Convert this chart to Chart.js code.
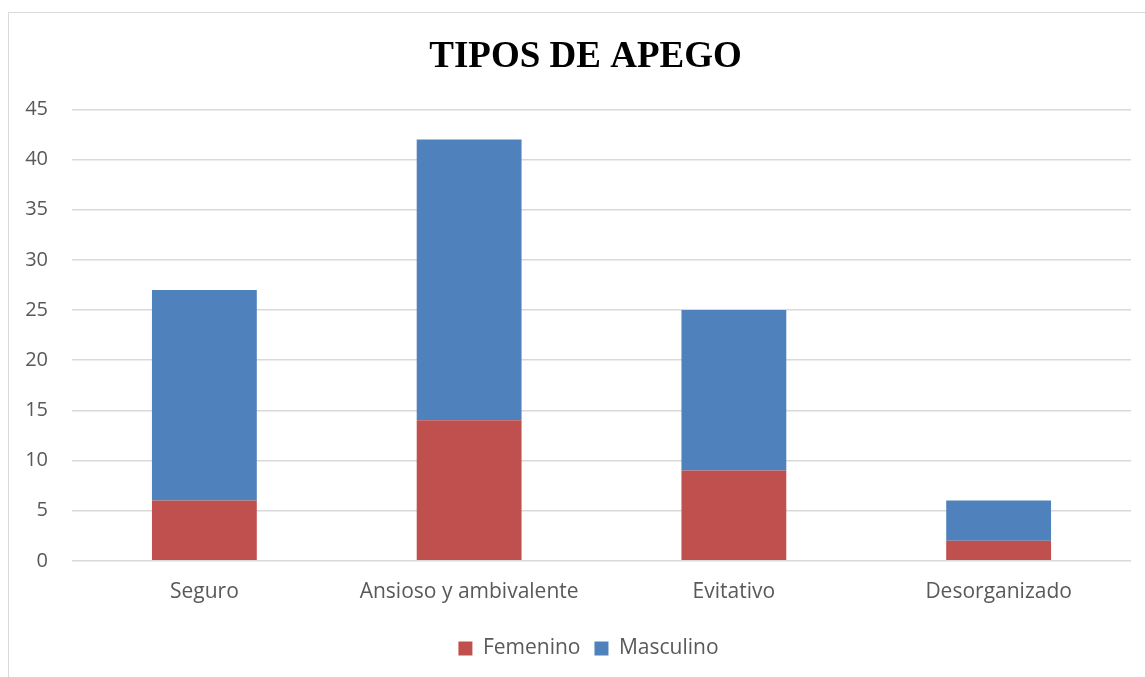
<!DOCTYPE html>
<html>
<head>
<meta charset="utf-8">
<script src="https://cdn.jsdelivr.net/npm/chart.js@4"></script>
<style>
  html, body { margin: 0; padding: 0; background: #fff; overflow: hidden; }
  #frame { position: absolute; left: 8px; top: 12px; width: 1200px; height: 700px; border: 1px solid #d9d9d9; }
  #wrap { position: absolute; left: 0; top: 0; width: 1145px; height: 677px; }
</style>
</head>
<body>
<div id="frame"></div>
<div id="wrap"><canvas id="chart"></canvas></div>
<script>
const categories = ["Seguro", "Ansioso y ambivalente", "Evitativo", "Desorganizado"];
const femenino = [6, 14, 9, 2];
const masculino = [21, 28, 16, 4];
const yTicks = [0, 5, 10, 15, 20, 25, 30, 35, 40, 45];

const textFont = { family: "'Open Sans', sans-serif", size: 21 };

// title and legend are centred a little right of the full canvas in the original
const shiftBlocks = {
  id: 'shiftBlocks',
  afterLayout(chart) {
    if (chart.titleBlock) chart.titleBlock.left = 40;
    if (chart.legend) chart.legend.left = 46;
  }
};

new Chart(document.getElementById("chart").getContext("2d"), {
  type: 'bar',
  data: {
    labels: categories,
    datasets: [
      { label: 'Femenino', data: femenino, backgroundColor: '#c0504d', categoryPercentage: 1, barPercentage: 0.396 },
      { label: 'Masculino', data: masculino, backgroundColor: '#4f81bd', categoryPercentage: 1, barPercentage: 0.396 }
    ]
  },
  options: {
    responsive: true,
    maintainAspectRatio: false,
    animation: false,
    layout: { padding: { left: 0, right: 14, top: 13, bottom: 8 } },
    plugins: {
      title: {
        display: true,
        text: 'TIPOS DE APEGO',
        color: '#000',
        font: { family: "'Liberation Serif', 'Times New Roman', serif", size: 37, weight: 'bold' },
        padding: { top: 22, bottom: 30 }
      },
      legend: {
        position: 'bottom',
        labels: { color: '#595959', font: textFont, boxWidth: 14, boxHeight: 14, padding: 14 }
      },
      tooltip: { enabled: false }
    },
    scales: {
      x: {
        stacked: true,
        grid: { display: false, drawTicks: false },
        border: { display: false },
        ticks: { color: '#595959', font: textFont, padding: 19 }
      },
      y: {
        stacked: true,
        min: 0,
        max: 45,
        afterBuildTicks: s => { s.ticks = yTicks.map(v => ({ value: v })); },
        afterFit: s => { s.width = 72; },
        grid: { color: '#d9d9d9', lineWidth: 1.5, drawTicks: false },
        border: { display: false },
        ticks: { color: '#595959', font: { family: "'Open Sans', sans-serif", size: 20 }, padding: 24 }
      }
    }
  },
  plugins: [shiftBlocks]
});
</script>
</body>
</html>
